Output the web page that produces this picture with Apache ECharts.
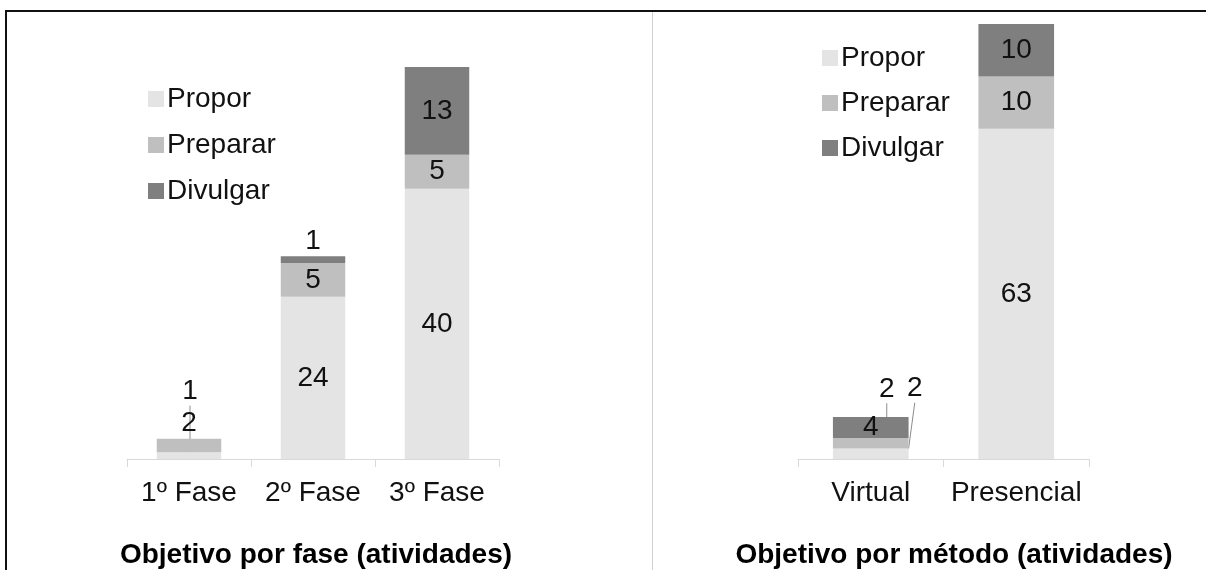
<!DOCTYPE html>
<html>
<head>
<meta charset="utf-8">
<script src="https://cdn.jsdelivr.net/npm/echarts@6/dist/echarts.min.js"></script>
<style>
  html, body { margin: 0; padding: 0; background: #fff; }
  #main { width: 1206px; height: 570px; }
</style>
</head>
<body>
<div id="main"></div>
<script>
var fases = ['1º Fase', '2º Fase', '3º Fase'];
var faseProp = [1, 24, 40];
var fasePrep = [2, 5, 5];
var faseDiv = [0, 1, 13];

var metodos = ['Virtual', 'Presencial'];
var metProp = [2, 63];
var metPrep = [2, 10];
var metDiv = [4, 10];

var nomes = ['Propor', 'Preparar', 'Divulgar'];
var cores = ['#e4e4e4', '#bfbfbf', '#7f7f7f'];
var fonte = 'Arial, "Liberation Sans", sans-serif';

var chart = echarts.init(document.getElementById('main'));

// labels moved out of small segments, keyed by series then data index
var moved = {
  'f0': { 0: { dx: 1, dy: -64 } },
  'm0': { 0: { dx: 44, dy: -65 } },
  'm1': { 0: { dx: 16, dy: -54 } }
};

function toItems(arr, key) {
  return arr.map(function (v, i) {
    var item = { value: v };
    if (moved[key] && moved[key][i]) {
      item.labelLine = { show: true };
    }
    return item;
  });
}

function barSerie(name, idx, arr, axis, key, stack) {
  return {
    name: name,
    type: 'bar',
    stack: stack,
    xAxisIndex: axis,
    yAxisIndex: axis,
    barWidth: '52%',
    color: cores[idx],
    data: toItems(arr, key),
    label: {
      show: true,
      position: 'inside',
      fontFamily: fonte,
      fontSize: 28,
      color: '#111',
      formatter: function (p) { return p.value ? String(p.value) : ''; }
    },
    labelLine: {
      show: false,
      lineStyle: { color: '#8c8c8c', width: 1 }
    },
    labelLayout: function (p) {
      var m = moved[key] && moved[key][p.dataIndex];
      return m ? { dx: m.dx, dy: m.dy } : {};
    }
  };
}

var series = [
  barSerie('Propor', 0, faseProp, 0, 'f0', 'fase'),
  barSerie('Preparar', 1, fasePrep, 0, 'f1', 'fase'),
  barSerie('Divulgar', 2, faseDiv, 0, 'f2', 'fase'),
  barSerie('Propor', 0, metProp, 1, 'm0', 'metodo'),
  barSerie('Preparar', 1, metPrep, 1, 'm1', 'metodo'),
  barSerie('Divulgar', 2, metDiv, 1, 'm2', 'metodo')
];
// small top segments get their label above the bar
series[1].data[0].label = { position: 'top', distance: 1 };
series[2].data[1].label = { position: 'top', distance: 1 };

function xEixo(cats, grid) {
  return {
    type: 'category',
    gridIndex: grid,
    data: cats,
    axisLine: { lineStyle: { color: '#d9d9d9', width: 1 } },
    axisTick: { show: true, length: 8, lineStyle: { color: '#d9d9d9' } },
    axisLabel: { interval: 0, hideOverlap: false, fontFamily: fonte, fontSize: 28, color: '#111', margin: 20 }
  };
}

function yEixo(grid, max) {
  return {
    type: 'value',
    gridIndex: grid,
    min: 0,
    max: max,
    show: false,
    splitLine: { show: false }
  };
}

var option = {
  animation: false,
  backgroundColor: '#fff',
  title: [
    {
      text: 'Objetivo por fase (atividades)',
      left: 311, top: 536, textAlign: 'center',
      textStyle: { fontFamily: fonte, fontSize: 28, fontWeight: 'bold', color: '#000' }
    },
    {
      text: 'Objetivo por método (atividades)',
      left: 949, top: 536, textAlign: 'center',
      textStyle: { fontFamily: fonte, fontSize: 28, fontWeight: 'bold', color: '#000' }
    }
  ],
  legend: [
    {
      data: nomes, orient: 'vertical', left: 143, top: 80,
      icon: 'rect', itemWidth: 16, itemHeight: 16, itemGap: 18,
      textStyle: { fontFamily: fonte, fontSize: 28, color: '#111', padding: [0, 0, 0, -2] }
    },
    {
      data: nomes, orient: 'vertical', left: 817, top: 39,
      icon: 'rect', itemWidth: 16, itemHeight: 16, itemGap: 17,
      textStyle: { fontFamily: fonte, fontSize: 28, color: '#111', padding: [0, 0, 0, -2] }
    }
  ],
  grid: [
    { left: 127, width: 372, top: 67, bottom: 111 },
    { left: 798, width: 291, top: 24, bottom: 111 }
  ],
  xAxis: [xEixo(fases, 0), xEixo(metodos, 1)],
  yAxis: [yEixo(0, 58), yEixo(1, 83)],
  graphic: [
    { type: 'rect', shape: { x: 5, y: 10, width: 1201, height: 2 }, style: { fill: '#111' } },
    { type: 'rect', shape: { x: 5, y: 10, width: 2, height: 560 }, style: { fill: '#111' } },
    { type: 'line', shape: { x1: 652.5, y1: 12, x2: 652.5, y2: 570 }, style: { stroke: '#d0d0d0', lineWidth: 1 } }
  ],
  series: series
};

chart.setOption(option);
</script>
</body>
</html>
